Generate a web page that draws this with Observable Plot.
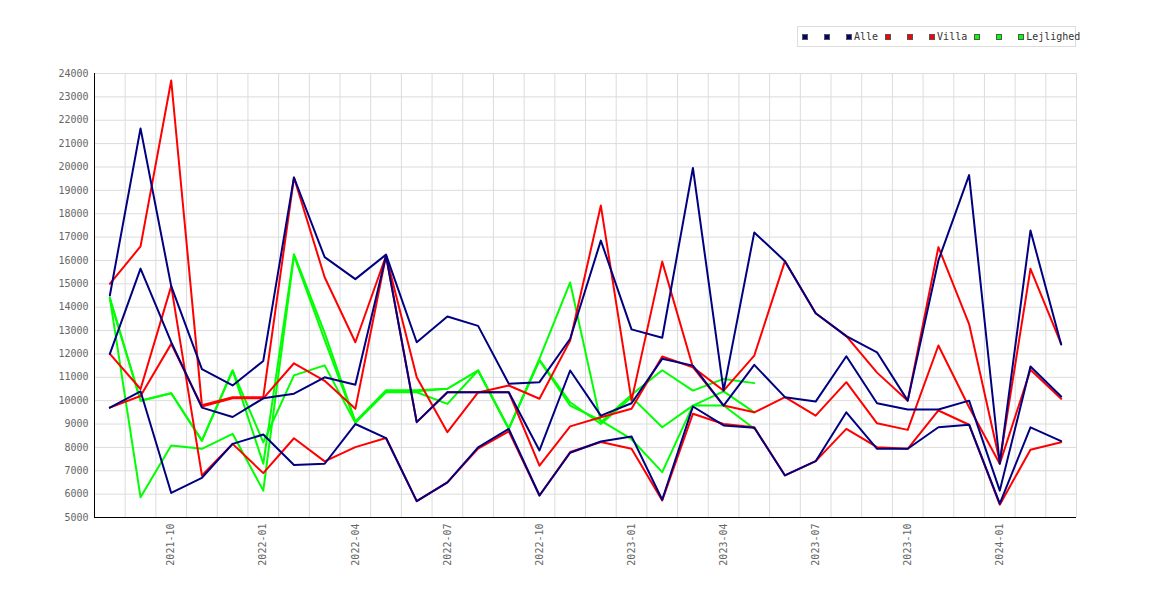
<!DOCTYPE html>
<html>
<head>
<meta charset="utf-8">
<script src="https://cdn.jsdelivr.net/npm/d3@7"></script>
<script src="https://cdn.jsdelivr.net/npm/@observablehq/plot@0.6"></script>
<style>
  body { margin: 0; background: #fff; }
  #wrap { position: relative; width: 1170px; height: 600px; }
  #legend { position: absolute; left: 797px; top: 26px; width: 277px; height: 19px;
            border: 1px solid #dcdcdc; background: #fff; display: flex; align-items: center;
            font-family: "DejaVu Sans Mono", monospace; font-size: 10px; color: #333; white-space: nowrap; overflow: visible; }
  .ent { display: flex; align-items: center; flex-shrink: 0; }
  .mk { width: 4px; height: 4px; border: 1px solid #555; flex-shrink: 0; }
</style>
</head>
<body>
<div id="wrap"><div id="legend"></div></div>
<script>
const months = ["2021-08","2021-09","2021-10","2021-11","2021-12","2022-01","2022-02","2022-03","2022-04","2022-05","2022-06","2022-07","2022-08","2022-09","2022-10","2022-11","2022-12","2023-01","2023-02","2023-03","2023-04","2023-05","2023-06","2023-07","2023-08","2023-09","2023-10","2023-11","2023-12","2024-01","2024-02","2024-03"];
const tickIndex = [2,5,8,11,14,17,20,23,26,29];
const yTicks = [5000,6000,7000,8000,9000,10000,11000,12000,13000,14000,15000,16000,17000,18000,19000,20000,21000,22000,23000,24000];

const alle1 = [14500,21650,14900,11350,10650,11700,19550,16140,15200,16250,12500,13600,13200,10720,10790,12650,16850,13050,12690,19960,10430,17200,15970,13740,12760,12070,10000,16000,19650,7300,17280,12400];
const alle2 = [12000,15650,12500,9700,9300,10100,10300,11000,10680,16200,9080,10360,10360,10360,7870,11290,9360,9890,11790,11500,9790,11530,10150,9960,11900,9890,9620,9620,10000,6150,11460,10180];
const alle3 = [9700,10400,6050,6700,8150,8550,7250,7300,9000,8400,5700,6500,8000,8790,5940,7770,8250,8470,5760,9750,8940,8840,6800,7410,9500,7940,7940,8860,8970,5590,8860,8270];

const villa1 = [15000,16600,23700,9800,10150,10150,19550,15280,12500,16200,11000,8650,10350,10650,10080,12570,18350,10000,15950,11430,10430,11930,15970,13740,12760,11200,10000,16570,13280,7400,15640,12430];
const villa2 = [12000,10500,14900,6800,8150,6900,8390,7400,8010,8400,5700,6500,7950,8690,5940,7800,8230,7940,5730,9440,9000,8860,6800,7410,8790,8010,7940,9580,8970,5550,7900,8220];
const villa3 = [9700,10200,12430,9750,10100,10100,11600,10850,9650,16200,9080,10360,10360,10360,7220,8900,9290,9650,11890,11430,9790,9500,10150,9360,10790,9030,8750,12360,9720,7300,11320,10080];

const lejl1 = [14400,10000,10320,8290,11290,7300,16270,12900,9100,10450,10450,10510,11290,8800,11800,15060,9080,10250,11300,10430,10930,10750];
const lejl2 = [14400,5870,8080,7940,8580,6150,16200,12600,9080,10400,10400,10510,11290,8800,11750,9930,9000,10150,8860,9790,10400,9500];
const lejl3 = [14350,10000,10320,8290,11290,8220,11080,11510,9050,10360,10360,9860,11290,8800,11720,9790,9150,8350,6940,9790,9790,8800];

const groups = [
  {label: "Alle", color: "#000080", series: [alle1, alle2, alle3]},
  {label: "Villa", color: "#ff0000", series: [villa1, villa2, villa3]},
  {label: "Lejlighed", color: "#00ff00", series: [lejl1, lejl2, lejl3]}
];

const toRows = vals => vals.map((v, i) => ({i, v}));
const lineMarks = [];
// draw green first, then red, then navy on top
for (const g of [...groups].reverse()) {
  for (const s of g.series) {
    lineMarks.push(Plot.line(toRows(s), {x: "i", y: "v", stroke: g.color, strokeWidth: 2}));
  }
}

const xGrid = d3.range(0, months.length).map(i => i + 0.5);

const chart = Plot.plot({
  width: 1170,
  height: 600,
  marginLeft: 94,
  marginRight: 94,
  marginTop: 73,
  marginBottom: 83,
  style: {fontFamily: "'DejaVu Sans Mono', monospace", fontSize: "10px", color: "#666", background: "#fff"},
  x: {domain: [-0.5, months.length - 0.5], axis: null},
  y: {domain: [5000, 24000], axis: null},
  marks: [
    Plot.ruleY(yTicks.slice(1), {stroke: "#dcdcdc", strokeWidth: 1}),
    Plot.ruleX(xGrid, {stroke: "#dcdcdc", strokeWidth: 1}),
    ...lineMarks,
    Plot.ruleX([-0.5], {stroke: "#000", strokeWidth: 1}),
    Plot.ruleY([5000], {stroke: "#000", strokeWidth: 1}),
    Plot.axisY(yTicks, {tickSize: 0, tickPadding: 6, label: null, fill: "#666", tickFormat: d => String(d)}),
    Plot.axisX(tickIndex, {tickSize: 0, tickPadding: 6, tickRotate: -90, label: null, fill: "#666", tickFormat: i => months[i]})
  ]
});
document.getElementById("wrap").appendChild(chart);
chart.style.position = "absolute";
chart.style.left = "0";
chart.style.top = "0";

// legend
const legend = document.getElementById("legend");
legend.style.zIndex = 2;
let first = true;
for (const g of groups) {
  const labels = ["", "", g.label];
  labels.forEach((lab) => {
    const e = document.createElement("div");
    e.className = "ent";
    const m = document.createElement("div");
    m.className = "mk";
    m.style.background = g.color;
    e.appendChild(m);
    if (first) { e.style.marginLeft = "4px"; first = false; }
    if (lab === "") {
      e.style.width = "22px";
    } else {
      const t = document.createElement("span");
      t.textContent = lab;
      t.style.marginLeft = "2px";
      t.style.marginRight = "7px";
      e.appendChild(t);
    }
    legend.appendChild(e);
  });
}
</script>
</body>
</html>
